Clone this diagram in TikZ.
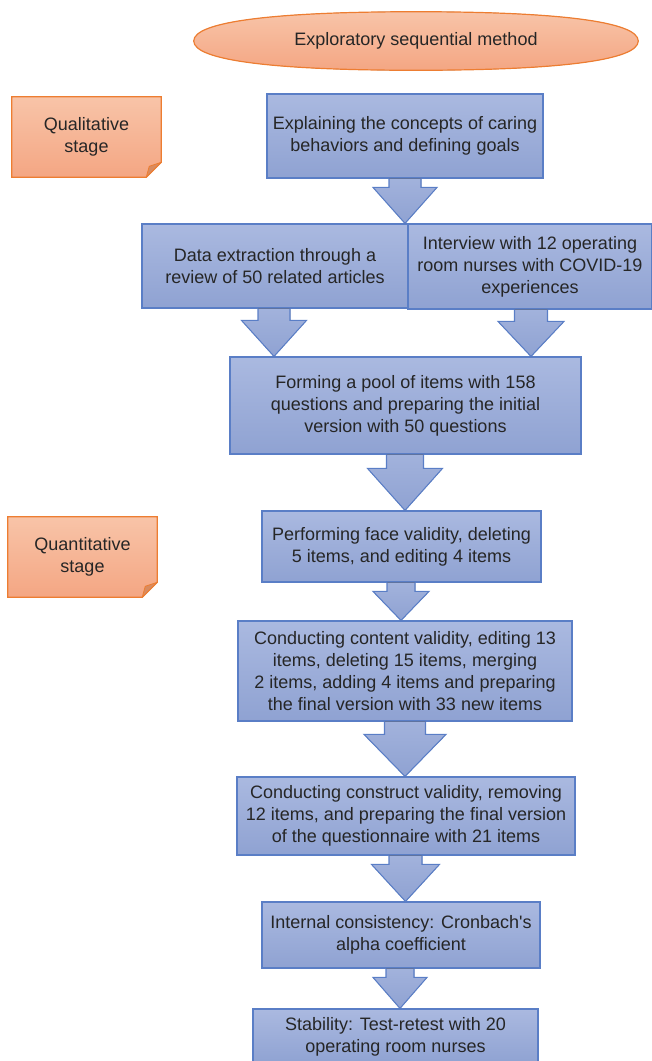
\documentclass[tikz,border=0pt]{standalone}
\usepackage{fontspec}
\setmainfont{Liberation Sans}
\usetikzlibrary{shapes.geometric,calc}
\definecolor{bluetop}{HTML}{AAB9E0}
\definecolor{bluebot}{HTML}{8FA2D2}
\definecolor{blueline}{HTML}{5A7EC6}
\definecolor{orgtop}{HTML}{F8C4A8}
\definecolor{orgbot}{HTML}{F4A683}
\definecolor{orgline}{HTML}{ED7D31}
\definecolor{orgfold}{HTML}{D98B5F}
\definecolor{txt}{HTML}{262626}
\pgfdeclarelayer{bg}
\pgfsetlayers{bg,main}
\tikzset{
  sz/.style 2 args={minimum width=#1*0.75pt, minimum height=#2*0.75pt},
  txtfont/.style={font=\fontsize{13.5}{16.5}\selectfont, text=txt, align=center, inner sep=0pt},
  stepbox/.style={txtfont, draw=blueline, line width=0.9pt, top color=bluetop, bottom color=bluebot},
  notebox/.style={txtfont},
  noteshape/.style={draw=orgline, line width=0.9pt, top color=orgtop, bottom color=orgbot},
  startbox/.style={txtfont, ellipse},
  arrowshape/.style={draw=blueline, line width=0.8pt, top color=bluetop!70!bluebot, bottom color=bluebot, line join=miter},
}
% block arrow: from node, to node, centre coordinate, shaft half width, head half width, head length
\newcommand\barrow[6]{%
  \filldraw[arrowshape] ($(#1.south -| #3)+(-#4,0)$) -- ($(#2.north -| #3)+(-#4,-#6)$) -- ($(#2.north -| #3)+(-#5,-#6)$) -- (#2.north -| #3) -- ($(#2.north -| #3)+(#5,-#6)$) -- ($(#2.north -| #3)+(#4,-#6)$) -- ($(#1.south -| #3)+(#4,0)$);
}
\newcommand\notedraw[1]{%
  \begin{pgfonlayer}{bg}
  \filldraw[noteshape] (#1.north west) -- (#1.north east) -- ($(#1.south east)+(0,-15)$) -- ($(#1.south east)+(-15,0)$) -- (#1.south west) -- cycle;
  \filldraw[fill=orgfold, draw=orgline, line width=0.6pt, line join=round] ($(#1.south east)+(-15,0)$) -- ($(#1.south east)+(-12,-11)$) -- ($(#1.south east)+(0,-15)$) -- cycle;
  \end{pgfonlayer}
}
\begin{document}
\begin{tikzpicture}[x=0.75pt,y=-0.75pt]
\useasboundingbox (0,0) rectangle (652,1061);

\node[startbox, sz={444}{58}] (start) at (416,41) {Exploratory sequential method};
\begin{pgfonlayer}{bg}
\filldraw[noteshape] (start.west) .. controls +(0,-19) and +(-145,0) .. (start.north)
  .. controls +(145,0) and +(0,-19) .. (start.east)
  .. controls +(0,19) and +(145,0) .. (start.south)
  .. controls +(-145,0) and +(0,19) .. (start.west) -- cycle;
\end{pgfonlayer}

\node[notebox, sz={149}{80}] (qual) at (86.5,137) {Qualitative\\stage};
\notedraw{qual}
\node[notebox, sz={149}{80}] (quant) at (82.5,557) {Quantitative\\stage};
\notedraw{quant}

\node[stepbox, sz={276}{84}] (b1) at (405,136) {Explaining the concepts of caring\\behaviors and defining goals};
\node[stepbox, sz={266}{84}] (b2l) at (275,266) {Data extraction through a\\review of 50 related articles};
\node[stepbox, sz={244}{85}] (b2r) at (530,266.5) {Interview with 12 operating\\room nurses with COVID-19\\experiences};
\node[stepbox, sz={351}{97}] (b3) at (405.5,405.5) {Forming a pool of items with 158\\questions and preparing the initial\\version with 50 questions};
\node[stepbox, sz={279}{71}] (b4) at (401.5,546.5) {Performing face validity, deleting\\5 items, and editing 4 items};
\node[stepbox, sz={334}{100}] (b5) at (405,671) {Conducting content validity, editing 13\\items, deleting 15 items, merging\\2 items, adding 4 items and preparing\\the final version with 33 new items};
\node[stepbox, sz={338}{78}] (b6) at (406,816) {Conducting construct validity, removing\\12 items, and preparing the final version\\of the questionnaire with 21 items};
\node[stepbox, sz={278}{66}] (b7) at (401,935) {Internal consistency: Cronbach\textquotesingle s\\alpha coefficient};
\node[stepbox, sz={285}{55}] (b8) at (395.5,1036.5) {Stability: Test-retest with 20\\operating room nurses};

\coordinate (c1) at (405,0);
\coordinate (c2) at (274,0);
\coordinate (c3) at (531,0);
\coordinate (c4) at (405,0);
\coordinate (c5) at (401,0);
\coordinate (c6) at (405,0);
\coordinate (c7) at (405.5,0);
\coordinate (c8) at (400,0);

\barrow{b1}{b2l}{c1}{16}{32}{36}
\barrow{b2l}{b3}{c2}{16}{32.5}{36}
\barrow{b2r}{b3}{c3}{16.5}{33}{35}
\barrow{b3}{b4}{c4}{18.5}{37.5}{42}
\barrow{b4}{b5}{c5}{14}{28}{29}
\barrow{b5}{b6}{c6}{20.5}{41}{42}
\barrow{b6}{b7}{c7}{16.5}{34}{37}
\barrow{b7}{b8}{c8}{14}{27}{31}
\end{tikzpicture}
\end{document}
